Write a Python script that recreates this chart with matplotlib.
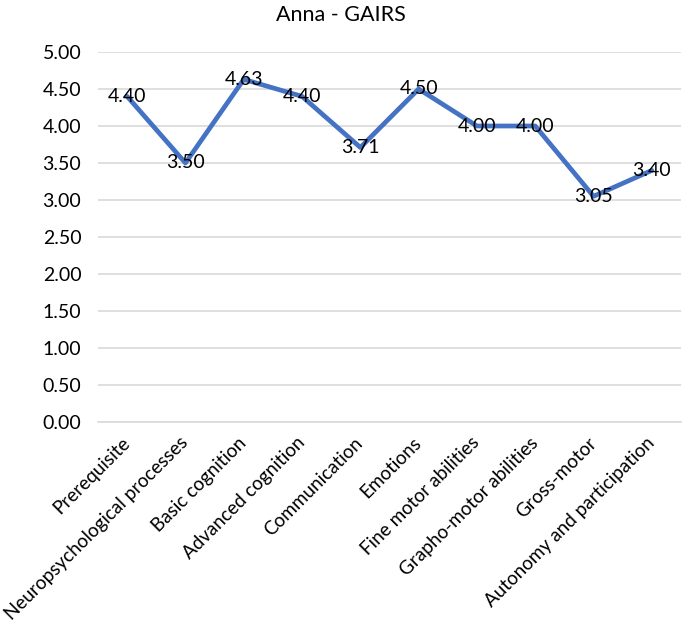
import matplotlib
matplotlib.use("Agg")
import matplotlib.pyplot as plt

categories = ["Prerequisite", "Neuropsychological processes", "Basic cognition",
              "Advanced cognition", "Communication", "Emotions", "Fine motor abilities",
              "Grapho-motor abilities", "Gross-motor", "Autonomy and participation"]
values = [4.40, 3.50, 4.63, 4.40, 3.71, 4.50, 4.00, 4.00, 3.05, 3.40]
yticks = [0.0, 0.5, 1.0, 1.5, 2.0, 2.5, 3.0, 3.5, 4.0, 4.5, 5.0]

plt.rcParams['font.family'] = ['Lato', 'DejaVu Sans']

fig = plt.figure(figsize=(6.85, 6.33), dpi=100)
ax = fig.add_axes([98 / 685, 1 - 422 / 633, 583 / 685, 370 / 633])

x = list(range(len(categories)))
ax.plot(x, values, color='#4472C4', linewidth=3.4, solid_joinstyle='round',
        solid_capstyle='round', zorder=3)
for xi, v in zip(x, values):
    ax.text(xi, v, f"{v:.2f}", ha='center', va='center', fontsize=14, color='black', zorder=4)

ax.set_xlim(-0.5, len(categories) - 0.5)
ax.set_ylim(0, 5)
ax.set_yticks(yticks)
ax.set_yticklabels([f"{t:.2f}" for t in yticks], fontsize=14)
ax.set_xticks(x)
ax.set_xticklabels(categories, rotation=45, ha='right', va='center',
                   rotation_mode='anchor', fontsize=13.6)
ax.grid(axis='y', color='#D9D9D9', linewidth=1.2)
ax.set_axisbelow(True)
for s in ['top', 'right', 'left']:
    ax.spines[s].set_visible(False)
ax.spines['bottom'].set_color('#D9D9D9')
ax.spines['bottom'].set_linewidth(1.2)
ax.tick_params(axis='y', length=0, pad=12)
ax.tick_params(axis='x', length=0, pad=13)

fig.text(0.497, 1 - 15 / 633, "Anna - GAIRS", ha='center', va='center', fontsize=15.5)

fig.savefig("out.png", dpi=100)
